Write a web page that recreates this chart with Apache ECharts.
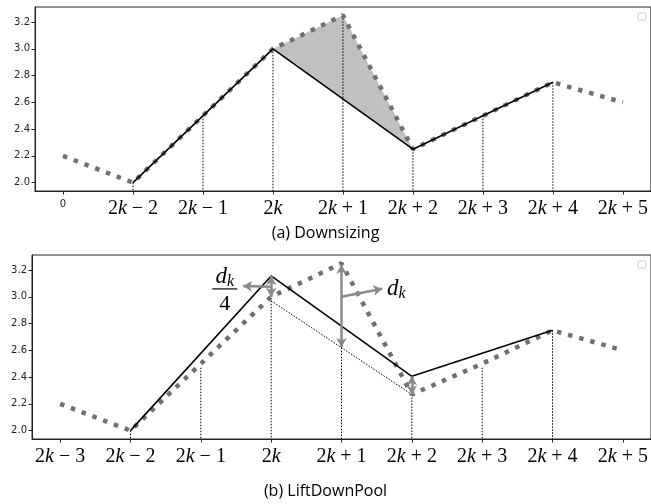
<!DOCTYPE html>
<html><head><meta charset="utf-8">
<script src="https://cdn.jsdelivr.net/npm/echarts@6/dist/echarts.min.js"></script>
<style>html,body{margin:0;padding:0;background:#fff}#c{width:651px;height:504px}</style>
</head><body><div id="c"></div>
<script>
// ---------- data ----------
const xs = [0, 1, 2, 3, 4, 5, 6, 7, 8];
const yTicks = [2.0, 2.2, 2.4, 2.6, 2.8, 3.0, 3.2];
const Y_MIN = 1.9375, Y_MAX = 3.3125, X_MIN = -0.4, X_MAX = 8.4;

// (a) Downsizing
const labelsTop = ['0', '2k − 2', '2k − 1', '2k', '2k + 1', '2k + 2', '2k + 3', '2k + 4', '2k + 5'];
const originalTop = [2.2, 2.0, 2.5, 3.0, 3.25, 2.25, 2.5, 2.75, 2.6];
const pooledX = [1, 3, 5, 7];
const downsizedTop = [2.0, 3.0, 2.25, 2.75];
const stemX = [1, 2, 3, 4, 5, 6, 7];
const stemTop = [2.0, 2.5, 3.0, 3.25, 2.25, 2.5, 2.75];
const shadeX = [3, 4, 5, 4];
const shadeY = [3.0, 3.25, 2.25, 2.625];

// (b) LiftDownPool
const labelsBottom = ['2k − 3', '2k − 2', '2k − 1', '2k', '2k + 1', '2k + 2', '2k + 3', '2k + 4', '2k + 5'];
const originalBottom = [2.2, 2.0, 2.5, 3.0, 3.25, 2.27, 2.5, 2.75, 2.6];
const liftedBottom = [2.0, 3.156, 2.406, 2.75];
const downX = [3, 5];
const downsizedBottom = [2.97, 2.27];
const stemBottom = [2.0, 2.47, 2.97, 2.62, 2.27, 2.47, 2.75];

// ---------- helpers ----------
const GRAY = '#6f6f6f', ARROW = '#8a8a8a';
function pairs(xa, ya) { return xa.map((x, i) => [x, ya[i]]); }
function mathLabel(s) {
  if (s === '0') return '{z|0}';
  return '{n|' + s.replace('k', '}{k|k}{n|') + '}';
}
const richX = {
  n: { fontFamily: 'Liberation Serif', fontSize: 20, color: '#000', lineHeight: 22 },
  k: { fontFamily: 'Liberation Serif', fontStyle: 'italic', fontSize: 20, color: '#000', lineHeight: 22 },
  z: { fontFamily: 'DejaVu Sans', fontSize: 10, color: '#222', lineHeight: 12 }
};
function xAxisCfg(grid, labels) {
  return {
    type: 'value', gridIndex: grid, min: X_MIN, max: X_MAX,
    splitLine: { show: false },
    axisLine: { onZero: false, lineStyle: { color: '#222', width: 1 } },
    axisTick: { show: true, length: 3.5, customValues: xs, lineStyle: { color: '#222' } },
    axisLabel: { customValues: xs, margin: 7, formatter: v => mathLabel(labels[Math.round(v)]), rich: richX }
  };
}
function yAxisCfg(grid) {
  return {
    type: 'value', gridIndex: grid, min: Y_MIN, max: Y_MAX,
    splitLine: { show: false },
    axisLine: { show: true, onZero: false, lineStyle: { color: '#222', width: 1 } },
    axisTick: { show: true, length: 3.5, customValues: yTicks, lineStyle: { color: '#222' } },
    axisLabel: { customValues: yTicks, margin: 5, formatter: v => v.toFixed(1),
      fontFamily: 'DejaVu Sans', fontSize: 10, color: '#222' }
  };
}
function stemSeries(idx, xa, ya) {
  return {
    type: 'custom', xAxisIndex: idx, yAxisIndex: idx, silent: true, z: 1,
    data: pairs(xa, ya),
    renderItem(params, api) {
      const p = api.coord([api.value(0), api.value(1)]);
      const b = api.coord([api.value(0), Y_MIN]);
      return { type: 'line', shape: { x1: p[0], y1: p[1], x2: b[0], y2: b[1] },
        style: { stroke: '#000', lineWidth: 1, lineDash: [1.5, 1.5] } };
    }
  };
}
function dotted(idx, data) {
  return { type: 'line', xAxisIndex: idx, yAxisIndex: idx, data: data, symbol: 'none', z: 3,
    lineStyle: { color: GRAY, width: 4.5, type: [4.5, 7], cap: 'butt' } };
}
function solid(idx, data, z) {
  return { type: 'line', xAxisIndex: idx, yAxisIndex: idx, data: data, symbol: 'none', z: z || 4,
    lineStyle: { color: '#000', width: 1.6 } };
}
function arrow(a, b, s1, s2, curv) {
  return [{ coord: a, symbol: s1, lineStyle: curv ? { curveness: curv } : undefined },
          { coord: b, symbol: s2 }];
}

const option = {
  animation: false,
  backgroundColor: '#fff',
  title: [
    { text: '(a) Downsizing', left: 'center', top: 220,
      textStyle: { fontFamily: 'Open Sans', fontSize: 16, fontWeight: 'normal', color: '#000' } },
    { text: '(b) LiftDownPool', left: 'center', top: 478,
      textStyle: { fontFamily: 'Open Sans', fontSize: 16, fontWeight: 'normal', color: '#000' } }
  ],
  grid: [
    { left: 35, top: 7, width: 616, height: 184, show: true, borderColor: '#222', borderWidth: 1 },
    { left: 32, top: 255, width: 619, height: 184, show: true, borderColor: '#222', borderWidth: 1 }
  ],
  xAxis: [xAxisCfg(0, labelsTop), xAxisCfg(1, labelsBottom)],
  yAxis: [yAxisCfg(0), yAxisCfg(1)],
  series: [
    // top: shaded area
    {
      type: 'custom', xAxisIndex: 0, yAxisIndex: 0, silent: true, z: 0,
      data: [[shadeX[0], shadeY[0]]],
      renderItem(params, api) {
        const pts = shadeX.map((x, i) => api.coord([x, shadeY[i]]));
        return { type: 'polygon', shape: { points: pts }, style: { fill: '#c0c0c0' } };
      }
    },
    stemSeries(0, stemX, stemTop),
    dotted(0, pairs(xs, originalTop)),
    solid(0, pairs(pooledX, downsizedTop)),
    // bottom
    stemSeries(1, stemX, stemBottom),
    {
      type: 'line', xAxisIndex: 1, yAxisIndex: 1, data: pairs(downX, downsizedBottom), symbol: 'none', z: 2,
      lineStyle: { color: '#000', width: 1, type: [1.5, 1.5] }
    },
    Object.assign(dotted(1, pairs(xs, originalBottom)), {
      markLine: {
        silent: true, z: 6, animation: false,
        symbolSize: [8, 9],
        label: { show: false },
        lineStyle: { color: ARROW, width: 2.5, type: 'solid' },
        emphasis: { disabled: true },
        data: [
          arrow([3, 3.0], [3, 3.156], 'arrow', 'arrow'),
          arrow([3, 3.075], [2.6, 3.08], 'none', 'arrow'),
          arrow([4, 3.24], [4, 2.625], 'arrow', 'arrow'),
          arrow([4, 3.0], [4.58, 3.06], 'none', 'arrow', 0.1),
          arrow([5, 2.27], [5, 2.406], 'arrow', 'arrow')
        ]
      }
    }),
    solid(1, pairs(pooledX, liftedBottom), 5)
  ]
};

const chart = echarts.init(document.getElementById('c'), null, { renderer: 'canvas' });
chart.setOption(option);

// annotations placed in data coordinates of panel (b)
const toPx = p => chart.convertToPixel({ gridIndex: 1 }, p);
const serif = 'Liberation Serif';
const richD = {
  d: { fontFamily: serif, fontStyle: 'italic', fontSize: 23, lineHeight: 26, color: '#000' },
  s: { fontFamily: serif, fontStyle: 'italic', fontSize: 16, lineHeight: 14, verticalAlign: 'bottom', color: '#000' }
};
const dk4 = toPx([2.34, 3.15]);
const bar = toPx([2.34, 3.059]);
const four = toPx([2.34, 2.947]);
const dk = toPx([4.78, 3.06]);
chart.setOption({
  graphic: [
    { type: 'text', x: dk4[0], y: dk4[1], style: { text: '{d|d}{s|k}', rich: richD, align: 'center', verticalAlign: 'middle' } },
    { type: 'line', shape: { x1: bar[0] - 12.5, y1: bar[1], x2: bar[0] + 12.5, y2: bar[1] }, style: { stroke: '#000', lineWidth: 1.2 } },
    { type: 'text', x: four[0], y: four[1], style: { text: '4', font: '22px "Liberation Serif"', fill: '#000', align: 'center', verticalAlign: 'middle' } },
    { type: 'text', x: dk[0], y: dk[1], style: { text: '{d|d}{s|k}', rich: richD, align: 'center', verticalAlign: 'middle' } },
    // empty legend frames
    { type: 'rect', shape: { x: 638, y: 13, width: 8, height: 7, r: 1.5 }, style: { fill: '#fff', stroke: '#cccccc', lineWidth: 1 } },
    { type: 'rect', shape: { x: 638, y: 261, width: 8, height: 7, r: 1.5 }, style: { fill: '#fff', stroke: '#cccccc', lineWidth: 1 } }
  ]
});
</script></body></html>
